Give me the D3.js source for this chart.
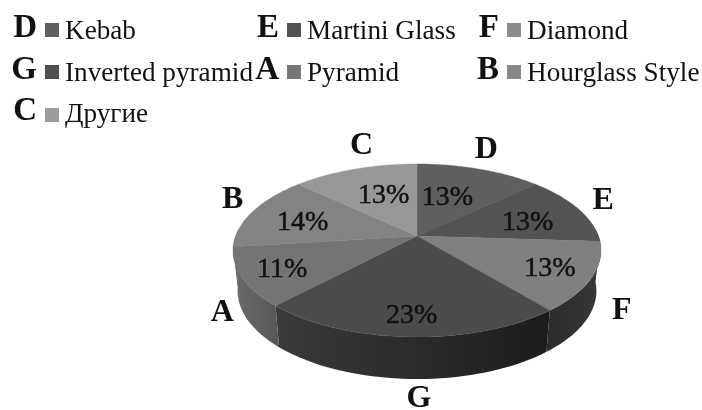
<!DOCTYPE html>
<html>
<head>
<meta charset="utf-8">
<script src="https://cdnjs.cloudflare.com/ajax/libs/d3/7.8.5/d3.min.js"></script>
<style>
  html, body { margin: 0; padding: 0; background: #fff; }
  svg { display: block; filter: blur(0.55px); }
  text { font-family: "Liberation Serif", serif; fill: #111; }
</style>
</head>
<body>
<svg id="chart" width="702" height="410"></svg>
<script>
// chart data, clockwise from 12 o'clock
const letters = ["D", "E", "F", "G", "A", "B", "C"];
const names = ["Kebab", "Martini Glass", "Diamond", "Inverted pyramid", "Pyramid", "Hourglass Style", "Другие"];
const shares = [13, 13, 13, 23, 11, 14, 13];

// colours
const topColors = ["#5f5f5f", "#535353", "#808080", "#4b4b4b", "#747474", "#838383", "#979797"];
const swatchColors = ["#5f5f5f", "#525252", "#8c8c8c", "#505050", "#787878", "#888888", "#9c9c9c"];
const sideColors = [
  ["#333333", "#333333"],
  ["#333333", "#333333"],
  ["#2b2b2b", "#383838"],
  ["#3a3a3a", "#1c1c1c"],
  ["#6c6c6c", "#565656"],
  ["#6c6c6c", "#6c6c6c"],
  ["#6c6c6c", "#6c6c6c"]
];

// legend layout
const legendCols = [45, 287, 507];
const legendRows = [{ y: 23, base: 39 }, { y: 65, base: 81 }, { y: 108, base: 122 }];

// label nudges in px from the projected anchor
const pctNudge = [[-14, 6.5], [-1, 3], [17, 3], [-1, 12.5], [-19, 4], [-1, 2], [11, 4.5]];
const letterNudge = [[-1, -13], [2, -7], [1, 24], [10, 41], [9, 26], [3, -10], [15, -17]];

const svg = d3.select("#chart");

// perspective tilt of the pie disc
const cx = 417, cy = 236, rx0 = 181.4, ky = 84.07, persp = -0.1676;
const depth = 40, bottomX = 0.975, bottomY = 1.02;

function project(angle, r) {
  const u = r * Math.sin(angle);
  const v = -r * Math.cos(angle);
  const d = 1 + persp * v;
  return [cx + rx0 * u / d, cy + ky * v / d];
}

function projectBottom(angle) {
  const [x, y] = project(angle, 1);
  return [cx + (x - cx) * bottomX, cy + depth + (y - cy) * bottomY];
}

const pie = d3.pie().sort(null).value(d => d)(shares);
const line = d3.line();
const angleSteps = (a0, a1) => d3.range(0, 41).map(i => a0 + (a1 - a0) * i / 40);

// side wall first, only the part facing the viewer
const defs = svg.append("defs");
const visFrom = 86 * Math.PI / 180, visTo = 274 * Math.PI / 180;

pie.forEach((s, i) => {
  const a0 = Math.max(s.startAngle, visFrom);
  const a1 = Math.min(s.endAngle, visTo);
  if (a1 <= a0) return;

  // colours are given left to right on screen
  const grad = defs.append("linearGradient")
    .attr("id", "side" + i)
    .attr("x1", 0).attr("x2", 1)
    .attr("y1", 0).attr("y2", 0);
  grad.append("stop").attr("offset", 0).attr("stop-color", sideColors[i][0]);
  grad.append("stop").attr("offset", 1).attr("stop-color", sideColors[i][1]);

  const steps = angleSteps(a0, a1);
  const pts = steps.map(a => project(a, 1)).concat(steps.slice().reverse().map(projectBottom));
  svg.append("path")
    .attr("d", line(pts) + "Z")
    .attr("fill", `url(#side${i})`);
});

// top surface
pie.forEach((s, i) => {
  const pts = [project(0, 0)].concat(angleSteps(s.startAngle, s.endAngle).map(a => project(a, 1)));
  svg.append("path")
    .attr("d", line(pts) + "Z")
    .attr("fill", topColors[i])
    .attr("stroke", topColors[i])
    .attr("stroke-width", 0.4);
});

// percent labels on the slices
pie.forEach((s, i) => {
  const mid = (s.startAngle + s.endAngle) / 2;
  const [x, y] = project(mid, 0.68);
  svg.append("text")
    .attr("x", x + pctNudge[i][0])
    .attr("y", y + pctNudge[i][1])
    .attr("dy", "0.34em")
    .attr("text-anchor", "middle")
    .attr("font-size", 28)
    .attr("stroke", "#111")
    .attr("stroke-width", 0.5)
    .text(shares[i] + "%");
});

// category letters round the pie
pie.forEach((s, i) => {
  const mid = (s.startAngle + s.endAngle) / 2;
  const [x, y] = project(mid, 1.15);
  svg.append("text")
    .attr("x", x + letterNudge[i][0])
    .attr("y", y + letterNudge[i][1])
    .attr("dy", "0.33em")
    .attr("text-anchor", "middle")
    .attr("font-size", 32)
    .attr("font-weight", "bold")
    .text(letters[i]);
});

// legend, three per row
letters.forEach((l, i) => {
  const col = legendCols[i % 3];
  const row = legendRows[Math.floor(i / 3)];
  const g = svg.append("g").attr("class", "legend-item");
  g.append("text")
    .attr("x", col - 8)
    .attr("y", row.base - 2)
    .attr("text-anchor", "end")
    .attr("font-size", 33)
    .attr("font-weight", "bold")
    .text(l);
  g.append("rect")
    .attr("x", col).attr("y", row.y)
    .attr("width", 14).attr("height", 14)
    .attr("fill", swatchColors[i]);
  g.append("text")
    .attr("x", col + 20)
    .attr("y", row.base)
    .attr("font-size", 27.2)
    .text(names[i]);
});
</script>
</body>
</html>
